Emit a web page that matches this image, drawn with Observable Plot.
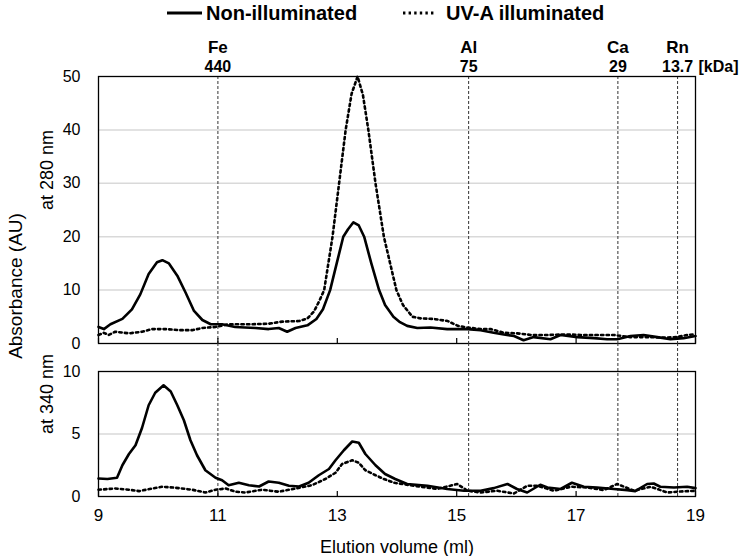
<!DOCTYPE html>
<html><head><meta charset="utf-8">
<script src="https://cdn.jsdelivr.net/npm/d3@7"></script>
<script src="https://cdn.jsdelivr.net/npm/@observablehq/plot@0.6"></script>
<style>
body{margin:0;background:#fff;font-family:"Liberation Sans",Arial,sans-serif;}
#chart{position:relative;width:742px;height:556px;overflow:hidden;}
#chart svg{position:absolute;left:0;}
#legend{position:absolute;left:167px;top:1px;height:24px;display:flex;align-items:center;font-weight:bold;font-size:20px;color:#000;white-space:nowrap;}
#legend .item{display:flex;align-items:center;}
#ylab{position:absolute;left:16px;top:286px;transform:translate(-50%,-50%) rotate(-90deg);font-size:19px;white-space:nowrap;color:#000;}
</style></head><body><div id="chart"><div id="legend"></div><div id="ylab"></div></div>
<script>
// ---------- data ----------
const seriesNames = ["Non-illuminated", "UV-A illuminated"];
const yAxisTitle = "Absorbance (AU)";
const xAxisTitle = "Elution volume (ml)";
const panelLabels = ["at 280 nm", "at 340 nm"];
const xTicks = [9, 11, 13, 15, 17, 19];
const yTicks280 = [0, 10, 20, 30, 40, 50];
const yTicks340 = [0, 5, 10];
const markerNames = ["Fe", "Al", "Ca", "Rn"];
const markerVolumes = [11.0, 15.2, 17.7, 18.7];
const markerKDa = ["440", "75", "29", "13.7"];
const kDaUnit = "[kDa]";

// [elution volume (ml), absorbance]
const non280 = [[9.00,3.1],[9.09,2.7],[9.20,3.6],[9.40,4.6],[9.56,6.4],[9.70,9.2],[9.84,13.0],[9.98,15.2],[10.07,15.6],[10.18,15.0],[10.32,12.7],[10.46,9.5],[10.60,6.1],[10.74,4.4],[10.88,3.6],[11.07,3.6],[11.29,3.1],[11.45,3.0],[11.63,2.9],[11.85,2.7],[12.02,2.9],[12.16,2.2],[12.30,2.9],[12.50,3.4],[12.65,4.6],[12.76,6.4],[12.88,10.0],[12.99,15.0],[13.10,20.0],[13.18,21.4],[13.27,22.7],[13.36,22.1],[13.45,20.0],[13.57,15.0],[13.70,10.0],[13.80,7.2],[13.94,5.0],[14.05,4.0],[14.17,3.3],[14.34,2.9],[14.56,3.0],[14.84,2.7],[15.18,2.7],[15.40,2.5],[15.62,2.0],[15.79,1.7],[15.96,1.4],[16.12,0.6],[16.29,1.2],[16.57,0.8],[16.74,1.6],[17.02,1.2],[17.30,1.0],[17.52,0.8],[17.69,0.8],[17.91,1.4],[18.13,1.6],[18.36,1.2],[18.58,0.8],[18.80,1.0],[19.00,1.4]];
const uv280 = [[9.00,1.6],[9.09,2.0],[9.17,1.6],[9.28,2.2],[9.51,1.9],[9.73,2.2],[9.90,2.7],[10.12,2.7],[10.35,2.5],[10.57,2.5],[10.74,2.9],[10.96,3.1],[11.18,3.6],[11.52,3.6],[11.85,3.7],[12.08,4.1],[12.36,4.2],[12.50,4.7],[12.61,6.0],[12.70,8.0],[12.78,10.0],[12.92,20.0],[13.03,30.0],[13.14,40.0],[13.24,46.8],[13.34,50.0],[13.43,46.5],[13.52,40.0],[13.64,30.0],[13.78,20.0],[13.99,10.0],[14.10,7.2],[14.26,5.0],[14.40,4.7],[14.61,4.6],[14.85,4.2],[15.02,3.3],[15.18,3.0],[15.40,2.7],[15.57,2.7],[15.79,2.0],[16.01,1.9],[16.24,1.6],[16.52,1.6],[16.85,1.7],[17.07,1.6],[17.35,1.6],[17.63,1.6],[17.91,1.2],[18.19,1.2],[18.47,1.1],[18.69,1.2],[18.86,1.6],[18.97,1.7]];
const non340 = [[9.00,1.44],[9.15,1.4],[9.31,1.5],[9.40,2.5],[9.51,3.4],[9.62,4.1],[9.73,5.5],[9.84,7.3],[9.95,8.3],[10.09,8.9],[10.21,8.4],[10.32,7.3],[10.43,6.1],[10.54,4.5],[10.65,3.3],[10.79,2.1],[10.96,1.5],[11.07,1.3],[11.18,0.9],[11.35,1.1],[11.52,0.9],[11.69,0.8],[11.85,1.2],[12.02,1.1],[12.19,0.86],[12.36,0.8],[12.52,1.1],[12.69,1.7],[12.86,2.2],[12.97,2.9],[13.11,3.7],[13.25,4.4],[13.36,4.3],[13.47,3.4],[13.64,2.5],[13.80,1.8],[13.97,1.4],[14.17,1.0],[14.51,0.86],[14.84,0.6],[15.12,0.46],[15.40,0.46],[15.62,0.67],[15.85,1.0],[16.01,0.6],[16.18,0.32],[16.40,0.94],[16.52,0.72],[16.74,0.6],[16.93,1.1],[17.13,0.78],[17.35,0.72],[17.63,0.6],[17.86,0.51],[17.99,0.43],[18.19,1.0],[18.30,1.04],[18.41,0.78],[18.64,0.72],[18.86,0.78],[19.00,0.67]];
const uv340 = [[9.00,0.54],[9.28,0.64],[9.51,0.54],[9.68,0.43],[9.90,0.64],[10.07,0.78],[10.29,0.7],[10.57,0.54],[10.79,0.32],[10.96,0.54],[11.13,0.64],[11.30,0.38],[11.46,0.32],[11.74,0.54],[12.02,0.38],[12.30,0.64],[12.58,0.91],[12.80,1.4],[12.97,1.9],[13.08,2.6],[13.25,2.9],[13.36,2.7],[13.47,2.1],[13.64,1.7],[13.78,1.4],[13.95,1.1],[14.28,0.86],[14.67,0.6],[15.01,1.0],[15.18,0.46],[15.40,0.32],[15.68,0.46],[15.96,0.24],[16.18,0.86],[16.35,0.86],[16.63,0.46],[16.91,0.78],[17.19,0.72],[17.46,0.51],[17.69,1.0],[17.97,0.46],[18.25,0.78],[18.53,0.32],[18.75,0.4],[19.00,0.46]];

// ---------- layout ----------
const W = 742, ML = 98, MR = 47;
const FONT = '"Liberation Sans", Arial, sans-serif';
const markers = markerNames.map((n, i) => ({name: n, x: markerVolumes[i], kda: markerKDa[i]}));
const lineStyles = [
  {stroke: "#000", strokeWidth: 2.6},
  {stroke: "#000", strokeWidth: 2.6, strokeDasharray: "2.4,3.2"}
];
const dashStyle = {stroke: "#333", strokeWidth: 1, strokeDasharray: "3,2"};

function panel({height, marginTop, marginBottom, yDomain, yTicks, series, label, bottom, extendUp}) {
  const frameH = height - marginTop - marginBottom;
  const marks = [
    Plot.gridY(yTicks.filter(d => d > yDomain[0] && d < yDomain[1]), {stroke: "#d9d9d9", strokeOpacity: 1, strokeWidth: 1.5}),
    Plot.ruleX(markers, {x: "x", ...dashStyle, insetTop: extendUp ? -extendUp : 0}),
    ...series.map((s, i) => Plot.line(s, {x: d => d[0], y: d => d[1], ...lineStyles[i]})),
    Plot.ruleX(xTicks, {x: d => d, insetTop: frameH - 5, stroke: "#000", strokeWidth: 1.2}),
    Plot.frame({stroke: "#000", strokeWidth: 1.3}),
    Plot.axisY({ticks: yTicks, tickSize: 0, tickPadding: 18, label: null, fontSize: 16}),
    Plot.text([label], {text: d => d, frameAnchor: "left", lineAnchor: "middle", rotate: -90, dx: -51, fontSize: 18})
  ];
  if (bottom) {
    marks.push(Plot.axisX({ticks: xTicks, tickSize: 0, tickPadding: 12, label: null, fontSize: 17}));
    marks.push(Plot.text([xAxisTitle], {text: d => d, frameAnchor: "bottom", lineAnchor: "middle", dy: 51, fontSize: 18}));
  } else {
    marks.push(Plot.text(markers, {x: "x", text: "name", frameAnchor: "top", lineAnchor: "middle", dy: -29, fontSize: 17, fontWeight: "bold"}));
    marks.push(Plot.text(markers, {x: "x", text: "kda", frameAnchor: "top", lineAnchor: "middle", dy: -10, fontSize: 16, fontWeight: "bold"}));
    marks.push(Plot.text([kDaUnit], {text: d => d, frameAnchor: "top-right", lineAnchor: "middle", textAnchor: "start", dx: 3, dy: -10, fontSize: 16, fontWeight: "bold"}));
  }
  return Plot.plot({
    width: W, height, marginLeft: ML, marginRight: MR, marginTop, marginBottom,
    x: {domain: [9, 19], axis: null},
    y: {domain: yDomain, axis: null},
    style: {fontFamily: FONT, fontSize: "16px", color: "#000", background: "transparent", overflow: "visible"},
    marks
  });
}

const chart = document.getElementById("chart");
const p1 = panel({height: 351, marginTop: 76, marginBottom: 8, yDomain: [0, 50], yTicks: yTicks280, series: [non280, uv280], label: panelLabels[0], bottom: false});
p1.style.top = "0px";
const p2 = panel({height: 213, marginTop: 28, marginBottom: 60, yDomain: [0, 10], yTicks: yTicks340, series: [non340, uv340], label: panelLabels[1], bottom: true, extendUp: 28});
p2.style.top = "343px";
chart.appendChild(p1);
chart.appendChild(p2);

// legend
const legend = document.getElementById("legend");
const gaps = [46, 0];
seriesNames.forEach((name, i) => {
  const item = document.createElement("div");
  item.className = "item";
  const sw = i === 0 ? 35 : 31;
  const st = lineStyles[i];
  item.innerHTML = `<svg width="${sw}" height="10" style="position:static;margin-right:${i === 0 ? 4 : 12}px"><line x1="0" x2="${sw}" y1="5" y2="5" stroke="${st.stroke}" stroke-width="3.2" ${st.strokeDasharray ? `stroke-dasharray="${st.strokeDasharray}"` : ""}/></svg><span>${name}</span>`;
  item.style.marginRight = gaps[i] + "px";
  legend.appendChild(item);
});
document.getElementById("ylab").textContent = yAxisTitle;
</script></body></html>
